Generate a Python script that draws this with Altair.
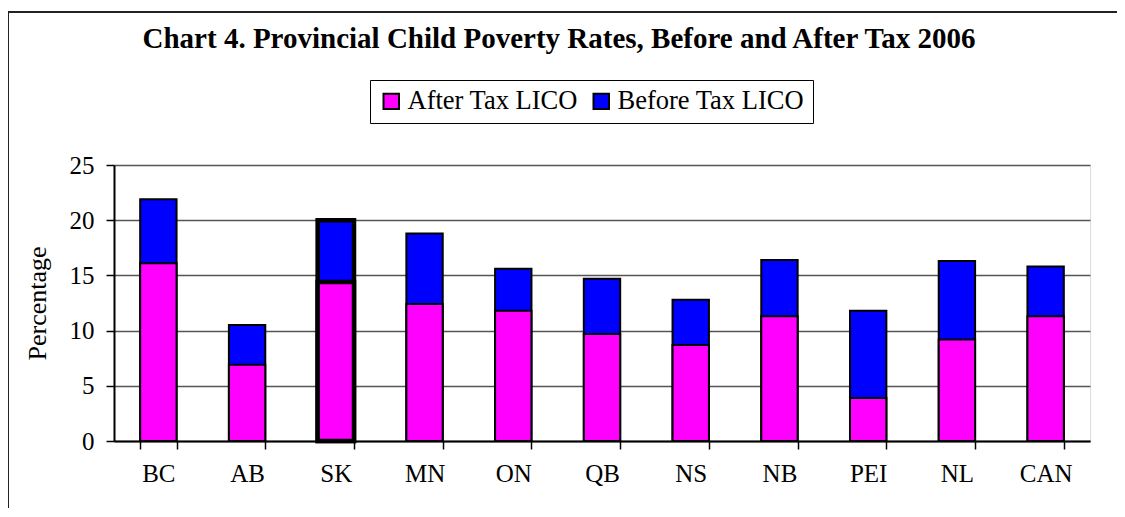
import altair as alt
import pandas as pd

provinces = ["BC", "AB", "SK", "MN", "ON", "QB", "NS", "NB", "PEI", "NL", "CAN"]
after_tax = [16.1, 6.9, 14.4, 12.4, 11.8, 9.7, 8.7, 11.3, 3.9, 9.2, 11.3]
before_tax = [21.9, 10.5, 20.0, 18.8, 15.6, 14.7, 12.8, 16.4, 11.8, 16.3, 15.8]
series_names = ["After Tax LICO", "Before Tax LICO"]
series_colors = ["#FF00FF", "#0000FF"]
y_ticks = [0, 5, 10, 15, 20, 25]

rows = []
for p, a, b in zip(provinces, after_tax, before_tax):
    rows.append({"province": p, "series": "Before Tax LICO", "value": b})
    rows.append({"province": p, "series": "After Tax LICO", "value": a})
df = pd.DataFrame(rows)

FONT = "Liberation Serif"

x = alt.X(
    "province:N", sort=provinces, title=None,
    scale=alt.Scale(paddingInner=0.59, paddingOuter=0.295),
    axis=alt.Axis(labelAngle=0, labelFont=FONT, labelFontSize=25, labelColor="black",
                  tickBand="extent", tickSize=8, tickColor="black", tickWidth=1.5,
                  domainColor="black", domainWidth=2, labelPadding=12, grid=False),
)
y = alt.Y(
    "value:Q", stack=None,
    scale=alt.Scale(domain=[0, 25], nice=False),
    axis=alt.Axis(values=y_ticks, title="Percentage", titleFont=FONT, titleFontSize=26,
                  titleFontWeight="normal", titleColor="black", titlePadding=19,
                  labelFont=FONT, labelFontSize=25, labelColor="black", labelPadding=12,
                  tickSize=8, tickColor="black", tickWidth=1.5,
                  domainColor="black", domainWidth=2,
                  grid=True, gridColor="#555555", gridWidth=1.5),
)
color = alt.Color(
    "series:N",
    scale=alt.Scale(domain=series_names, range=series_colors),
    legend=alt.Legend(
        title=None, orient="none", legendX=256, legendY=-85, direction="horizontal",
        strokeColor="black", padding=8, symbolType="square", symbolSize=240,
        symbolStrokeColor="black", symbolStrokeWidth=2, symbolOpacity=1,
        labelFont=FONT, labelFontSize=26.5, labelColor="black", labelLimit=400,
        labelOffset=3, columnPadding=10,
    ),
)
sw = alt.condition("datum.province == 'SK'", alt.value(4.5), alt.value(2))

base = alt.Chart(df)
before_layer = base.transform_filter("datum.series == 'Before Tax LICO'").mark_bar(
    stroke="black", opacity=1).encode(x=x, y=y, color=color, strokeWidth=sw)
after_layer = base.transform_filter("datum.series == 'After Tax LICO'").mark_bar(
    stroke="black", opacity=1).encode(x=x, y=y, color=color, strokeWidth=sw)

one = pd.DataFrame({"k": [0]})
frame_top = alt.Chart(one).mark_rule(color="#222222", strokeWidth=2).encode(
    x=alt.value(-106), x2=alt.value(1010), y=alt.value(-153))
frame_left = alt.Chart(one).mark_rule(color="#222222", strokeWidth=2).encode(
    x=alt.value(-106), y=alt.value(-153), y2=alt.value(360))

chart = alt.layer(frame_top, frame_left, before_layer, after_layer).properties(
    width=976, height=276,
    autosize=alt.AutoSizeParams(type="none"),
    padding={"left": 106, "top": 157, "right": 27, "bottom": 67},
    title=alt.TitleParams(
        "Chart 4. Provincial Child Poverty Rates, Before and After Tax 2006",
        font=FONT, fontSize=29, fontWeight="bold", color="black",
        anchor="middle", dx=-43, offset=-43),
).configure_view(stroke="#999999", strokeWidth=2).configure(background="white")

chart.save("out.html", embed_options={"renderer": "svg", "actions": False})
